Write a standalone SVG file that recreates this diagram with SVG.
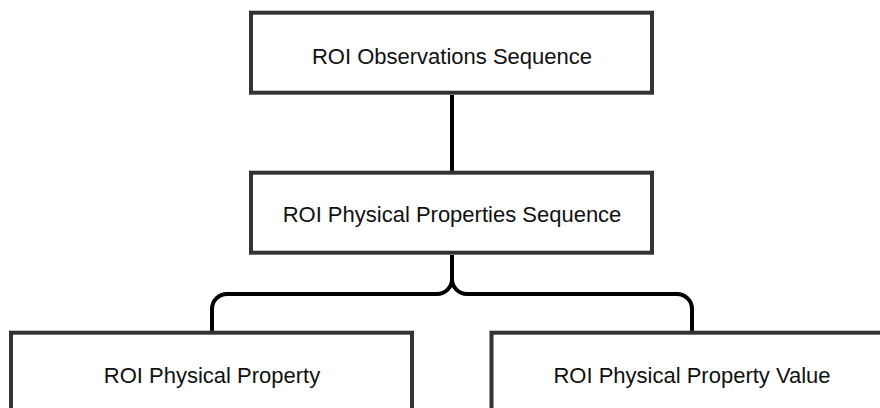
<svg xmlns="http://www.w3.org/2000/svg" width="880" height="408" viewBox="0 0 880 408">
  <style>
    .box { fill: #ffffff; stroke: #333333; stroke-width: 4; }
    .label { font-family: "Liberation Sans", Arial, sans-serif; font-size: 22px; fill: #111111; text-anchor: middle; }
    .link { fill: none; stroke: #000000; stroke-width: 4; }
  </style>
  <rect width="880" height="408" fill="#ffffff"/>

  <!-- connectors -->
  <g id="connectors">
    <path class="link" d="M452,95 V171"/>
    <path class="link" d="M452,255 V279 A15,15 0 0 1 437,294 H227 A15,15 0 0 0 212,309 V331"/>
    <path class="link" d="M452,279 A15,15 0 0 0 467,294 H677 A15,15 0 0 1 692,309 V331"/>
  </g>

  <!-- nodes -->
  <g id="roi-observations-sequence">
    <rect class="box" x="251" y="12.7" width="401" height="80"/>
    <text class="label" x="452" y="63.5">ROI Observations Sequence</text>
  </g>
  <g id="roi-physical-properties-sequence">
    <rect class="box" x="251" y="172.7" width="401" height="80"/>
    <text class="label" x="452" y="222">ROI Physical Properties Sequence</text>
  </g>
  <g id="roi-physical-property">
    <rect class="box" x="11" y="332.7" width="401" height="80"/>
    <text class="label" x="212" y="382.5">ROI Physical Property</text>
  </g>
  <g id="roi-physical-property-value">
    <rect class="box" x="491.5" y="332.7" width="401" height="80"/>
    <text class="label" x="692" y="382.5">ROI Physical Property Value</text>
  </g>
</svg>
